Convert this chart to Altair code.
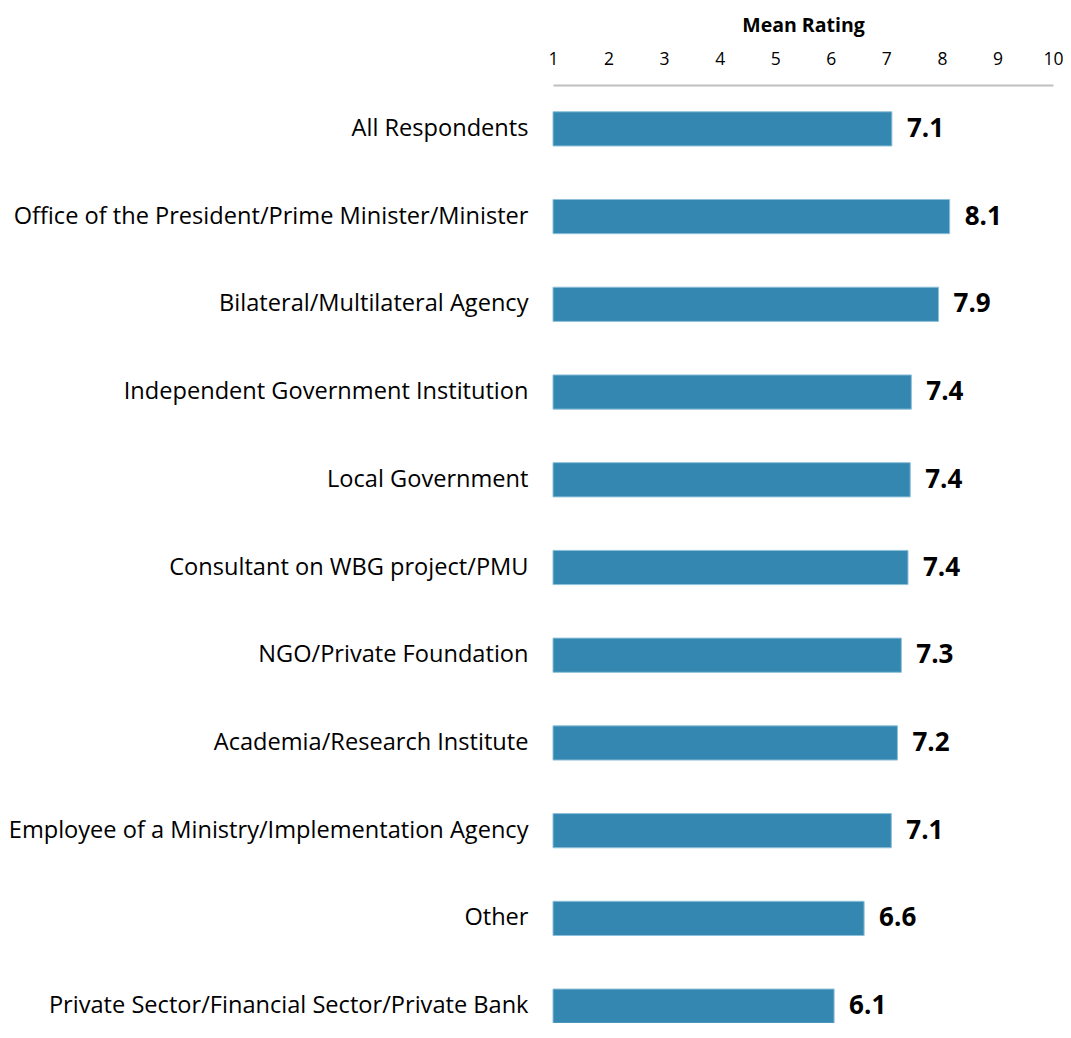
import altair as alt
import pandas as pd

categories = [
    "All Respondents",
    "Office of the President/Prime Minister/Minister",
    "Bilateral/Multilateral Agency",
    "Independent Government Institution",
    "Local Government",
    "Consultant on WBG project/PMU",
    "NGO/Private Foundation",
    "Academia/Research Institute",
    "Employee of a Ministry/Implementation Agency",
    "Other",
    "Private Sector/Financial Sector/Private Bank",
]
values = [7.1, 8.14, 7.94, 7.45, 7.43, 7.39, 7.27, 7.2, 7.09, 6.6, 6.06]
labels = ["7.1", "8.1", "7.9", "7.4", "7.4", "7.4", "7.3", "7.2", "7.1", "6.6", "6.1"]
ticks = [1, 2, 3, 4, 5, 6, 7, 8, 9, 10]

df = pd.DataFrame({"cat": categories, "val": values, "lab": labels})

FONT = "Open Sans"

y = alt.Y("cat:N", sort=categories, title=None,
          scale=alt.Scale(paddingInner=0.61, paddingOuter=0.305, range=[0, 965]),
          axis=alt.Axis(domain=False, ticks=False, labelFontSize=23.6, labelFont=FONT,
                        labelColor="#000000", labelPadding=25, labelLimit=700))
x = alt.X("val:Q", title="Mean Rating",
          scale=alt.Scale(domain=[1, 10], nice=False, zero=False),
          axis=alt.Axis(orient="top", values=ticks, format="d", grid=False, ticks=False,
                        domain=True, domainColor="#bfbfbf", domainWidth=2,
                        labelFontSize=17.5, labelFont=FONT, labelColor="#000000",
                        labelPadding=17, titleFontSize=19.5, titleFont=FONT,
                        titleFontWeight="bold", titleColor="#000000", titlePadding=15,
                        labelFlush=False))

bars = alt.Chart(df).mark_bar(color="#3487b0", stroke="#8ec0da", strokeWidth=1).encode(
    x=x, x2=alt.datum(1), y=y)
text = alt.Chart(df).mark_text(align="left", dx=15, fontSize=26, fontWeight="bold",
                               font=FONT, color="#000000").encode(
    x=alt.X("val:Q"), y=alt.Y("cat:N", sort=categories), text="lab:N")

chart = (bars + text).properties(
    width=500, height=938,
    autosize=alt.AutoSizeParams(type="none"),
    padding={"left": 545, "top": 77, "right": 10, "bottom": 0},
).configure_view(stroke=None)

chart.save("out.html", embed_options={"renderer": "svg", "actions": False})
